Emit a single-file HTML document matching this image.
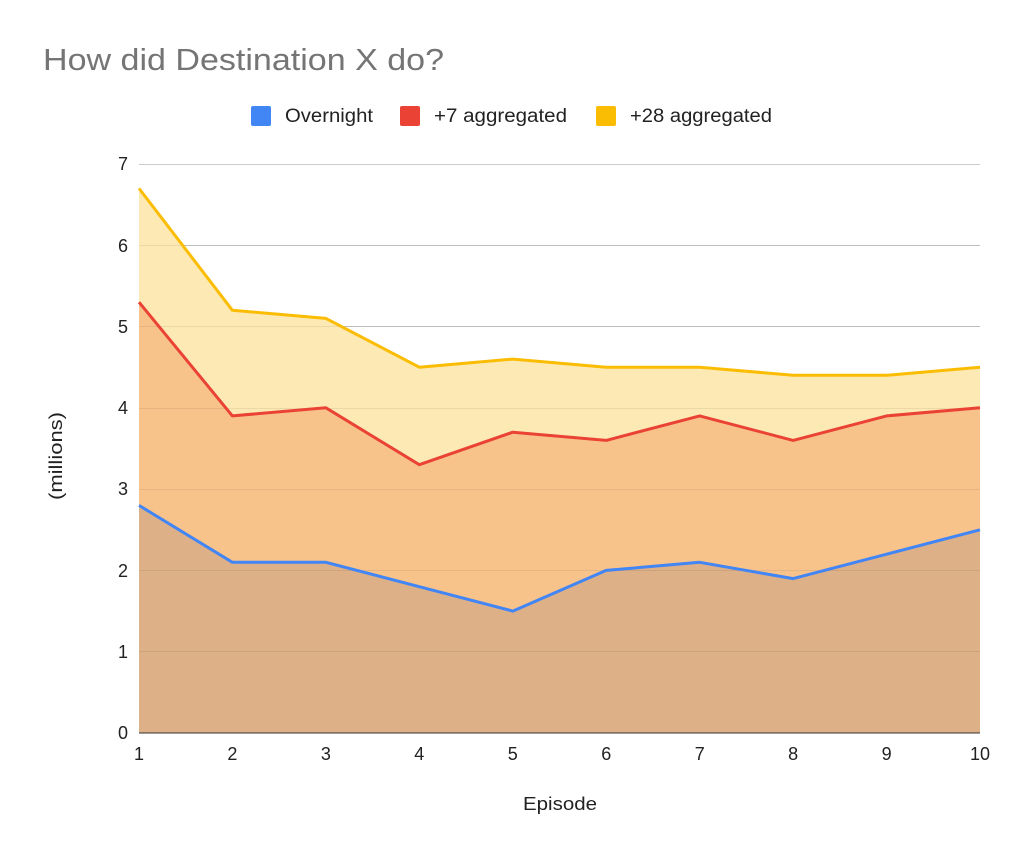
<!DOCTYPE html>
<html><head><meta charset="utf-8"><style>
body{margin:0;background:#fff;}
svg text{font-family:"Liberation Sans",Arial,sans-serif;}
</style></head><body>
<svg width="1024" height="858" viewBox="0 0 1024 858" xmlns="http://www.w3.org/2000/svg">
<rect width="1024" height="858" fill="#fff"/>
<text x="43" y="70" font-size="31" fill="#757575" textLength="401" lengthAdjust="spacingAndGlyphs">How did Destination X do?</text>
<rect x="251" y="106" width="20" height="20" rx="2" fill="#4285f4"/>
<text x="285" y="122" font-size="19" fill="#222" textLength="88" lengthAdjust="spacingAndGlyphs">Overnight</text>
<rect x="400" y="106" width="20" height="20" rx="2" fill="#ea4335"/>
<text x="434" y="122" font-size="19" fill="#222" textLength="133" lengthAdjust="spacingAndGlyphs">+7 aggregated</text>
<rect x="596" y="106" width="20" height="20" rx="2" fill="#fbbc04"/>
<text x="630" y="122" font-size="19" fill="#222" textLength="142" lengthAdjust="spacingAndGlyphs">+28 aggregated</text>
<g stroke="#ccc" stroke-width="1">
<line x1="139" x2="980" y1="164.5" y2="164.5"/><line x1="139" x2="980" y1="245.5" y2="245.5"/>
<line x1="139" x2="980" y1="326.5" y2="326.5"/><line x1="139" x2="980" y1="408.5" y2="408.5"/>
<line x1="139" x2="980" y1="489.5" y2="489.5"/><line x1="139" x2="980" y1="570.5" y2="570.5"/>
<line x1="139" x2="980" y1="651.5" y2="651.5"/>
</g>
<polygon fill="#fde9b3" points="139,733 139,188.4 232.4,310.3 325.9,318.4 419.3,367.2 512.8,359.1 606.2,367.2 699.7,367.2 793.1,375.3 886.6,375.3 980,367.2 980,733"/>
<polygon fill="#f8c38b" points="139,733 139,302.2 232.4,415.9 325.9,407.8 419.3,464.7 512.8,432.2 606.2,440.4 699.7,415.9 793.1,440.4 886.6,415.9 980,407.8 980,733"/>
<polygon fill="#ddb088" points="139,733 139,505.4 232.4,562.3 325.9,562.3 419.3,586.7 512.8,611.1 606.2,570.4 699.7,562.3 793.1,578.6 886.6,554.2 980,529.8 980,733"/>
<g stroke="#000" stroke-opacity="0.07" stroke-width="1">
<line x1="139" x2="980" y1="245.5" y2="245.5"/><line x1="139" x2="980" y1="326.5" y2="326.5"/>
<line x1="139" x2="980" y1="408.5" y2="408.5"/><line x1="139" x2="980" y1="489.5" y2="489.5"/>
<line x1="139" x2="980" y1="570.5" y2="570.5"/><line x1="139" x2="980" y1="651.5" y2="651.5"/>
</g>
<line x1="139" x2="980" y1="733" y2="733" stroke="#333" stroke-width="1"/>
<g fill="none" stroke-width="3" stroke-linejoin="round">
<polyline stroke="#fbbc04" points="139,188.4 232.4,310.3 325.9,318.4 419.3,367.2 512.8,359.1 606.2,367.2 699.7,367.2 793.1,375.3 886.6,375.3 980,367.2"/>
<polyline stroke="#ea4335" points="139,302.2 232.4,415.9 325.9,407.8 419.3,464.7 512.8,432.2 606.2,440.4 699.7,415.9 793.1,440.4 886.6,415.9 980,407.8"/>
<polyline stroke="#4285f4" points="139,505.4 232.4,562.3 325.9,562.3 419.3,586.7 512.8,611.1 606.2,570.4 699.7,562.3 793.1,578.6 886.6,554.2 980,529.8"/>
</g>
<g font-size="18" fill="#222" text-anchor="end">
<text x="128" y="739">0</text><text x="128" y="658">1</text><text x="128" y="577">2</text>
<text x="128" y="495">3</text><text x="128" y="414">4</text><text x="128" y="333">5</text>
<text x="128" y="252">6</text><text x="128" y="170">7</text>
</g>
<g font-size="18" fill="#222" text-anchor="middle">
<text x="139" y="760">1</text><text x="232.4" y="760">2</text><text x="325.9" y="760">3</text>
<text x="419.3" y="760">4</text><text x="512.8" y="760">5</text><text x="606.2" y="760">6</text>
<text x="699.7" y="760">7</text><text x="793.1" y="760">8</text><text x="886.6" y="760">9</text>
<text x="980" y="760">10</text>
<text x="560" y="810" textLength="74" lengthAdjust="spacingAndGlyphs">Episode</text>
<text transform="translate(62,456) rotate(-90)" textLength="88" lengthAdjust="spacingAndGlyphs">(millions)</text>
</g>
</svg>
</body></html>
